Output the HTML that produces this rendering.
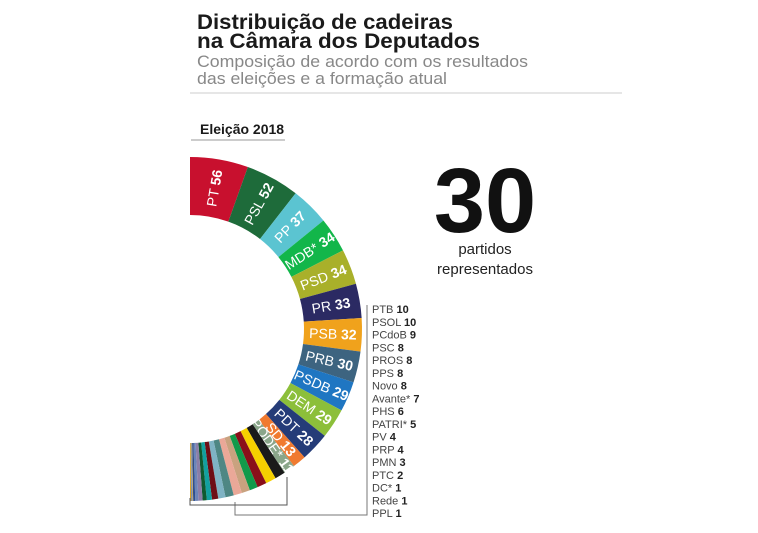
<!DOCTYPE html>
<html><head><meta charset="utf-8"><style>
body{margin:0;background:#fff;width:758px;height:528px;overflow:hidden;font-family:"Liberation Sans",sans-serif}
</style></head><body>
<svg width="758" height="528" xmlns="http://www.w3.org/2000/svg">
<text x="197" y="29" font-size="21" font-weight="bold" fill="#1a1a1a" textLength="256" lengthAdjust="spacingAndGlyphs">Distribuição de cadeiras</text>
<text x="197" y="48" font-size="21" font-weight="bold" fill="#1a1a1a" textLength="283" lengthAdjust="spacingAndGlyphs">na Câmara dos Deputados</text>
<text x="197" y="67" font-size="17" fill="#888" textLength="331" lengthAdjust="spacingAndGlyphs">Composição de acordo com os resultados</text>
<text x="197" y="84" font-size="17" fill="#888" textLength="250" lengthAdjust="spacingAndGlyphs">das eleições e a formação atual</text>
<line x1="190" y1="93" x2="622" y2="93" stroke="#ddd" stroke-width="1.5"/>
<text x="200" y="134" font-size="14" font-weight="bold" fill="#1a1a1a">Eleição 2018</text>
<line x1="191" y1="140" x2="285" y2="140" stroke="#bbb" stroke-width="1.5"/>
<text x="485" y="232" font-size="92" font-weight="bold" text-anchor="middle" fill="#111">30</text>
<text x="485" y="254" font-size="15" text-anchor="middle" fill="#222">partidos</text>
<text x="485" y="274" font-size="15" text-anchor="middle" fill="#222">representados</text>
<g id="ring"></g>
<g id="legend"></g>
<path d="M367,305 V515 H235 V502" fill="none" stroke="#777" stroke-width="1"/>
<path d="M287,477 V505 H190 V498" fill="none" stroke="#555" stroke-width="1"/>
</svg>
<script>
const parties=["PT","PSL","PP","MDB*","PSD","PR","PSB","PRB","PSDB","DEM","PDT","SD","PODE*","PTB","PSOL","PCdoB","PSC","PROS","PPS","Novo","Avante*","PHS","PATRI*","PV","PRP","PMN","PTC","DC*","Rede","PPL"];
const seats=[56,52,37,34,34,33,32,30,29,29,28,13,11,10,10,9,8,8,8,8,7,6,5,4,4,3,2,1,1,1];
const colors=["#c8102e","#1e6b3a","#5bc4d1","#12b64a","#a9b02a","#2b2a63","#f0a21c","#3d6480","#1f76c2","#8cbf3a","#253c78","#f07a30","#8aa68a","#1a1a1a","#f5d000","#8a0f1a","#119a4a","#c9a27f","#eaa898","#4e8784","#7fb3c4","#6e0e16","#12a0a0","#0f5a30","#8b7ea8","#6b84b8","#2e4f8e","#b5a070","#7a8fb0","#d8a020"];
const NS="http://www.w3.org/2000/svg";
const cx=190,cy=329,R=172,r=114,total=seats.reduce((a,b)=>a+b,0);
function ang(v){return v/total*Math.PI;}
function pt(rad,a){return [cx+rad*Math.sin(a),cy-rad*Math.cos(a)];}
const ring=document.getElementById('ring');
let cum=0;
seats.forEach((s,i)=>{
 const a0=ang(cum),a1=ang(cum+s);cum+=s;
 const p1=pt(R,a0),p2=pt(R,a1),p3=pt(r,a1),p4=pt(r,a0);
 const p=document.createElementNS(NS,'path');
 p.setAttribute('d',`M${p1} A${R},${R} 0 0 1 ${p2} L${p3} A${r},${r} 0 0 0 ${p4}Z`);
 p.setAttribute('fill',colors[i]);
 
 
 ring.appendChild(p);
 if(i<13){
  const am=(a0+a1)/2,m=pt((R+r)/2,am);
  const t=document.createElementNS(NS,'text');
  t.setAttribute('transform',`translate(${m}) rotate(${am*180/Math.PI-90})`);
  t.setAttribute('text-anchor','middle');t.setAttribute('dy','5');
  t.setAttribute('font-size','14');t.setAttribute('fill','#fff');
  t.innerHTML=parties[i]+' <tspan font-weight="bold">'+s+'</tspan>';
  
  
  ring.appendChild(t);
 }
});
const lg=document.getElementById('legend');
for(let i=13;i<parties.length;i++){
 const t=document.createElementNS(NS,'text');
 t.setAttribute('x',372);t.setAttribute('y',313+(i-13)*12.75);
 t.setAttribute('font-size','11');t.setAttribute('fill','#444');
 t.innerHTML=parties[i]+' <tspan font-weight="bold" fill="#222">'+seats[i]+'</tspan>';
 
 
 lg.appendChild(t);
}
</script>
</body></html>
